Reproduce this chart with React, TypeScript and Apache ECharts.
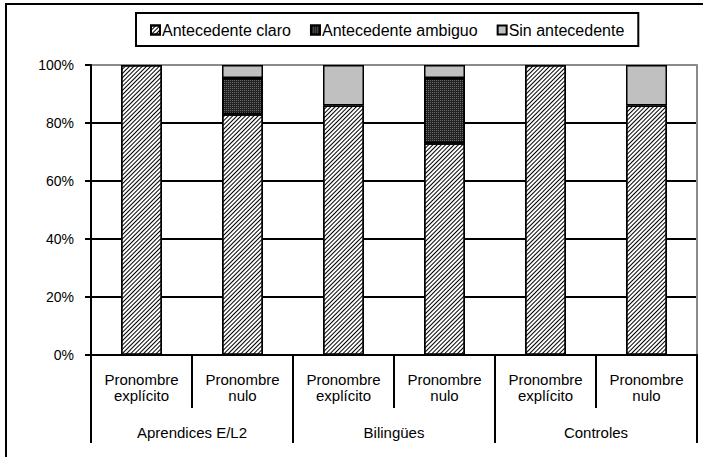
import React, { useEffect, useRef } from "react";
import * as echarts from "echarts";

const categories = [
  "Pronombre\nexplícito",
  "Pronombre\nnulo",
  "Pronombre\nexplícito",
  "Pronombre\nnulo",
  "Pronombre\nexplícito",
  "Pronombre\nnulo",
];
const groups = ["Aprendices E/L2", "Bilingües", "Controles"];
const seriesNames = ["Antecedente claro", "Antecedente ambiguo", "Sin antecedente"];
const claro = [100, 83, 86, 73, 100, 86];
const ambiguo = [0, 12.5, 0, 22.5, 0, 0];
const sinAnt = [0, 4.5, 14, 4.5, 0, 14];
const yTicks = [0, 20, 40, 60, 80, 100];

const FONT = "'Liberation Sans', Arial, sans-serif";

export default function App() {
  const ref = useRef<HTMLDivElement>(null);
  useEffect(() => {
    if (!ref.current) return;
    const chart = echarts.init(ref.current, null, { renderer: "svg" });
    const clean = (arr: number[]) => arr.map((v) => (v ? v : "-"));
    const border = { borderColor: "#000", borderWidth: 1.5 };
    chart.setOption({
      animation: false,
      backgroundColor: "#fff",
      textStyle: { fontFamily: FONT, color: "#000" },
      graphic: [
        {
          type: "rect",
          shape: { x: 6, y: 4, width: 720, height: 480 },
          style: { fill: "none", stroke: "#000", lineWidth: 2 },
          silent: true,
          z: 100,
        },
      ],
      legend: {
        left: 136,
        top: 13,
        padding: [9, 14, 8, 14],
        borderColor: "#000",
        borderWidth: 2,
        itemGap: 19,
        itemWidth: 9,
        itemHeight: 9,
        icon: "rect",
        data: seriesNames,
        textStyle: { fontFamily: FONT, fontSize: 16, color: "#000", padding: [0, 0, 0, -3] },
      },
      grid: { left: 91, top: 65, right: 6, bottom: 102, show: false },
      xAxis: [
        {
          type: "category",
          data: categories,
          position: "bottom",
          offset: 0,
          axisLine: { show: true, lineStyle: { color: "#000", width: 2 } },
          axisTick: { show: true, length: 53, lineStyle: { color: "#000", width: 2 } },
          axisLabel: {
            fontFamily: FONT,
            fontSize: 15,
            color: "#000",
            margin: 16,
            lineHeight: 16,
            interval: 0,
          },
        },
        {
          type: "category",
          data: groups,
          position: "bottom",
          offset: 0,
          axisLine: { show: true, lineStyle: { color: "#000", width: 2 } },
          axisTick: { show: true, length: 88, lineStyle: { color: "#000", width: 2 } },
          axisLabel: {
            fontFamily: FONT,
            fontSize: 15,
            color: "#000",
            margin: 70,
            interval: 0,
          },
        },
      ],
      yAxis: [
        {
          type: "value",
          min: yTicks[0],
          max: yTicks[yTicks.length - 1],
          interval: 20,
          axisLine: { show: true, lineStyle: { color: "#000", width: 2 } },
          axisTick: { show: true, length: 6, lineStyle: { color: "#000", width: 2 } },
          axisLabel: {
            fontFamily: FONT,
            fontSize: 14,
            color: "#000",
            margin: 17,
            formatter: "{value}%",
          },
          splitLine: {
            show: true,
            lineStyle: {
              color: ["#000", "#000", "#000", "#000", "#000", "#8a8a8a"],
              width: 2,
            },
          },
        },
        {
          type: "value",
          position: "right",
          min: 0,
          max: 100,
          interval: 20,
          axisLine: { show: true, lineStyle: { color: "#8a8a8a", width: 2 } },
          axisTick: { show: false },
          axisLabel: { show: false },
          splitLine: { show: false },
        },
      ],
      series: [
        {
          name: seriesNames[0],
          type: "bar",
          stack: "a",
          barWidth: 41,
          data: clean(claro),
          itemStyle: {
            color: "#fff",
            ...border,
            decal: {
              symbol: "rect",
              symbolSize: 1,
              color: "#000",
              dashArrayX: [1, 0],
              dashArrayY: [1, 2],
              rotation: -Math.PI / 4,
            },
          },
        },
        {
          name: seriesNames[1],
          type: "bar",
          stack: "a",
          barWidth: 41,
          data: clean(ambiguo),
          itemStyle: {
            color: "#222",
            ...border,
            decal: {
              symbol: "rect",
              symbolSize: 1,
              color: "#6a6a6a",
              dashArrayX: [1, 1],
              dashArrayY: [1, 1],
              rotation: 0,
            },
          },
        },
        {
          name: seriesNames[2],
          type: "bar",
          stack: "a",
          barWidth: 41,
          data: clean(sinAnt),
          itemStyle: { color: "#c0c0c0", ...border },
        },
      ],
    });
    return () => chart.dispose();
  }, []);
  return (
    <div
      ref={ref}
      style={{ position: "fixed", left: 0, top: 0, width: 703, height: 457 }}
    />
  );
}
